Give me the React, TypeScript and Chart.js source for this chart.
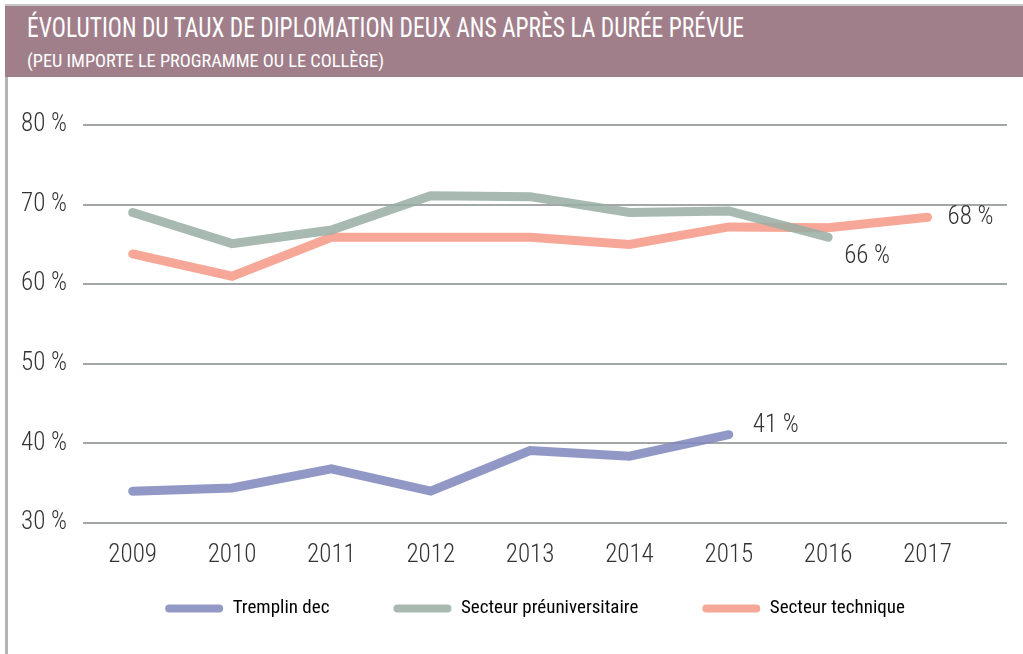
import React, { useEffect, useLayoutEffect, useRef } from "react";
import { Chart, registerables } from "chart.js";

Chart.register(...registerables);

const years = [2009, 2010, 2011, 2012, 2013, 2014, 2015, 2016, 2017];
const tremplinDec = [34, 34.4, 36.8, 34, 39.1, 38.4, 41.1, null, null];
const secteurPreuniversitaire = [69, 65.1, 66.8, 71.1, 71, 69, 69.2, 65.9, null];
const secteurTechnique = [63.8, 61, 65.9, 65.9, 65.9, 65, 67.2, 67.1, 68.4];
const yTicks = [30, 40, 50, 60, 70, 80];
const seriesNames = ["Tremplin dec", "Secteur préuniversitaire", "Secteur technique"];

const TITLE = "ÉVOLUTION DU TAUX DE DIPLOMATION DEUX ANS APRÈS LA DURÉE PRÉVUE";
const SUBTITLE = "(PEU IMPORTE LE PROGRAMME OU LE COLLÈGE)";

const FONT = "'Roboto Condensed', 'DejaVu Sans Condensed', sans-serif";
const COLORS = ["rgba(128,135,187,0.86)", "rgba(153,173,163,0.86)", "rgba(244,153,134,0.86)"];
const SOLID = ["#9399c5", "#a8b9b1", "#f6a898"];

function FitText(props: { text: string; width: number; size: number; top: number; left: number }) {
  const ref = useRef<HTMLSpanElement | null>(null);
  useLayoutEffect(() => {
    const el = ref.current;
    if (!el) return;
    el.style.transform = "none";
    const w = el.getBoundingClientRect().width;
    if (w > 0) el.style.transform = `scaleX(${props.width / w})`;
  }, [props.text, props.width]);
  return (
    <span
      ref={ref}
      style={{
        position: "absolute",
        left: props.left,
        top: props.top,
        fontFamily: FONT,
        fontWeight: 400,
        fontSize: props.size,
        lineHeight: 1,
        color: "#ffffff",
        whiteSpace: "nowrap",
        transformOrigin: "left top",
        display: "inline-block",
      }}
    >
      {props.text}
    </span>
  );
}

// x tick labels sit below a thin axis box; let them draw outside its clip,
// and nudge the legend row slightly left as in the original layout
const layoutTweaksPlugin = {
  id: "layoutTweaks",
  afterLayout(chart: any) {
    const x = chart.scales.x;
    if (x) x.bottom = chart.height;
    const lg = chart.legend;
    if (lg) {
      lg.left -= 10;
      lg.right -= 10;
    }
  },
};

const endLabelsPlugin = {
  id: "endLabels",
  afterDatasetsDraw(chart: any) {
    const ctx = chart.ctx;
    const offsets = [
      { dx: 24, dy: -9 },
      { dx: 16, dy: 20 },
      { dx: 20, dy: 0 },
    ];
    chart.data.datasets.forEach((ds: any, i: number) => {
      const meta = chart.getDatasetMeta(i);
      const n = ds.data.length;
      if (!n) return;
      const pt = meta.data[n - 1];
      const val = ds.data[n - 1].y;
      ctx.save();
      ctx.font = `300 25px ${FONT}`;
      ctx.fillStyle = "#333333";
      ctx.textAlign = "left";
      ctx.textBaseline = "middle";
      ctx.fillText(`${Math.round(val)} %`, pt.x + offsets[i].dx, pt.y + offsets[i].dy);
      ctx.restore();
    });
  },
};

function LineChart() {
  const canvasRef = useRef<HTMLCanvasElement | null>(null);
  useEffect(() => {
    const canvas = canvasRef.current;
    if (!canvas) return;
    const toPts = (arr: (number | null)[]) =>
      years.map((yr, i) => ({ x: yr, y: arr[i] })).filter((p) => p.y !== null);
    const series = [tremplinDec, secteurPreuniversitaire, secteurTechnique];
    const chart = new Chart(canvas, {
      type: "line",
      data: {
        datasets: series.map((arr, i) => ({
          label: seriesNames[i],
          data: toPts(arr) as any,
          borderColor: COLORS[i],
          backgroundColor: COLORS[i],
          borderWidth: 9,
          borderCapStyle: "round",
          borderJoinStyle: "miter",
          pointRadius: 0,
          pointHoverRadius: 0,
          tension: 0,
          fill: false,
        })),
      },
      options: {
        animation: false,
        responsive: false,
        devicePixelRatio: 1,
        layout: { padding: { top: 48, right: 16, left: 0, bottom: 26 } },
        plugins: {
          tooltip: { enabled: false },
          legend: {
            position: "bottom",
            fullSize: false,
            labels: {
              boxWidth: 58,
              boxHeight: 8,
              useBorderRadius: true,
              borderRadius: 4,
              padding: 64,
              color: "#222222",
              font: { family: FONT, size: 19, weight: "400" },
              generateLabels: (ch: any) =>
                ch.data.datasets.map((ds: any, i: number) => ({
                  text: ds.label,
                  fillStyle: SOLID[i],
                  strokeStyle: SOLID[i],
                  lineWidth: 0,
                  hidden: false,
                  datasetIndex: i,
                  borderRadius: 4,
                })),
            },
          },
        },
        scales: {
          x: {
            type: "linear",
            min: 2008.5,
            max: 2017.8,
            grid: { display: false, drawTicks: false },
            border: { display: false },
            afterBuildTicks: (scale: any) => {
              scale.ticks = years.map((v) => ({ value: v }));
            },
            ticks: {
              padding: 18,
              color: "#333333",
              font: { family: FONT, size: 25, weight: "300" },
              callback: (v: any) => String(v),
              maxRotation: 0,
              autoSkip: false,
            },
            afterFit: (scale: any) => {
              scale.height = 12;
            },
          },
          y: {
            min: 30,
            max: 80,
            afterBuildTicks: (scale: any) => {
              scale.ticks = yTicks.map((v) => ({ value: v }));
            },
            grid: { color: "#a4a7a7", lineWidth: 2, drawTicks: false },
            border: { display: false },
            ticks: {
              padding: 16,
              color: "#333333",
              font: { family: FONT, size: 25, weight: "300" },
              callback: (v: any) => `${v} %`,
            },
            afterFit: (scale: any) => {
              scale.width = 75;
            },
          },
        },
      },
      plugins: [layoutTweaksPlugin, endLabelsPlugin],
    } as any);
    return () => chart.destroy();
  }, []);
  return (
    <canvas
      ref={canvasRef}
      width={1015}
      height={577}
      style={{ position: "absolute", left: 8, top: 77, width: 1015, height: 577 }}
    />
  );
}

export default function App() {
  return (
    <div
      style={{
        position: "absolute",
        left: 0,
        top: 0,
        width: 1023,
        height: 654,
        background: "#ffffff",
        overflow: "hidden",
      }}
    >
      <div style={{ position: "absolute", left: 5, top: 4, width: 1018, height: 2, background: "#c4c6c6" }} />
      <div style={{ position: "absolute", left: 5, top: 6, width: 1018, height: 71, background: "#a07f8b" }} />
      <div style={{ position: "absolute", left: 5, top: 77, width: 3, height: 577, background: "#b3b5b5" }} />
      <FitText text={TITLE} width={717} size={28} top={14.4} left={27} />
      <FitText text={SUBTITLE} width={357} size={19} top={50.8} left={27} />
      <LineChart />
    </div>
  );
}
